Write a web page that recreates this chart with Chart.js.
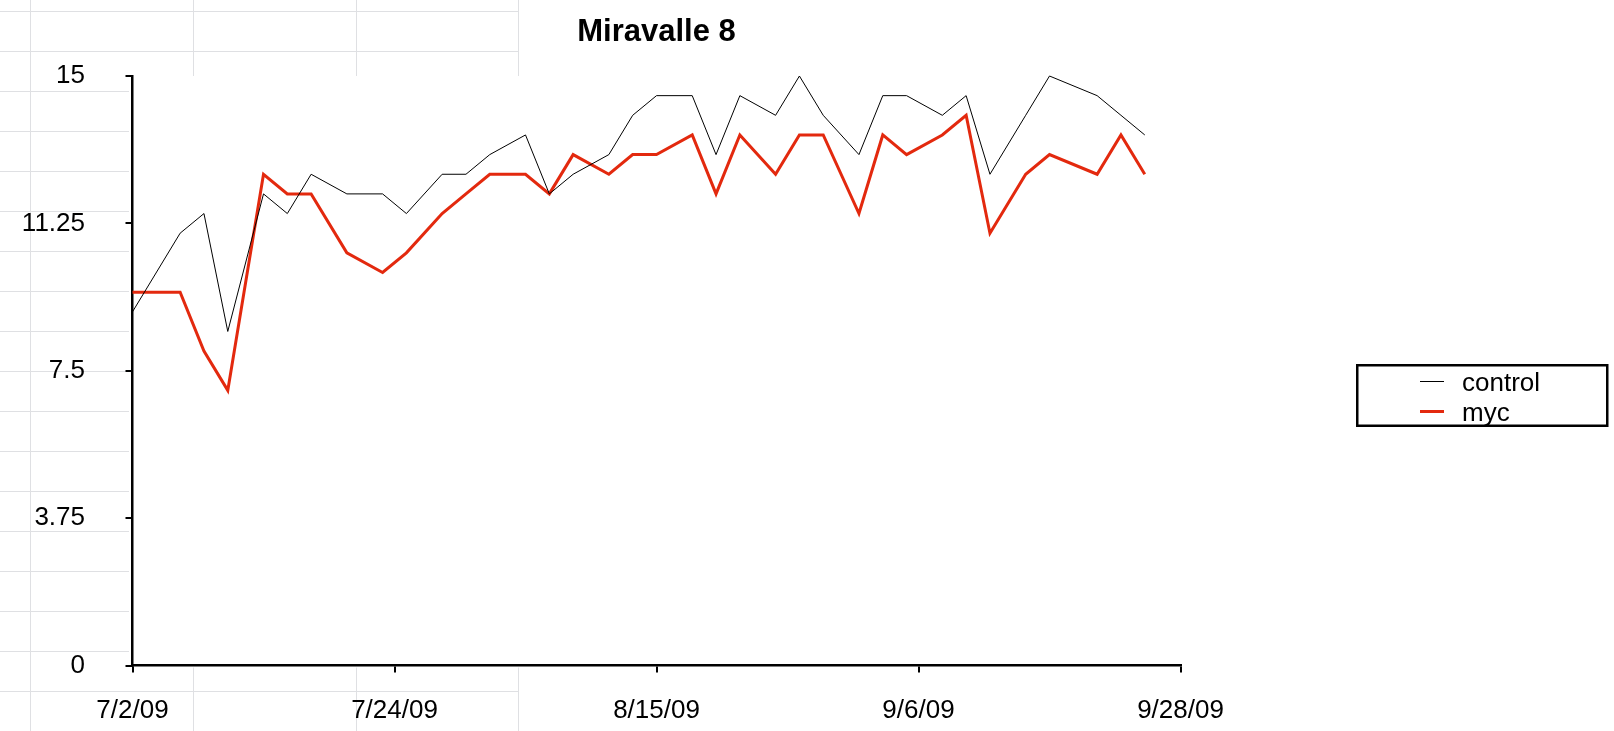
<!DOCTYPE html>
<html>
<head>
<meta charset="utf-8">
<script src="https://cdn.jsdelivr.net/npm/chart.js@4.4.1/dist/chart.umd.min.js"></script>
<style>
  html, body { margin: 0; padding: 0; background: #ffffff; }
  #wrap { width: 1614px; height: 731px; position: relative; }
  canvas { display: block; }
</style>
</head>
<body>
<div id="wrap"><canvas id="c" width="1614" height="731"></canvas></div>
<script>
// ---- data ----
const TITLE = 'Miravalle 8';
const dates = ['2009-07-02','2009-07-06','2009-07-08','2009-07-10','2009-07-13','2009-07-15','2009-07-17',
  '2009-07-20','2009-07-23','2009-07-25','2009-07-28','2009-07-30','2009-08-01','2009-08-04','2009-08-06',
  '2009-08-08','2009-08-11','2009-08-13','2009-08-15','2009-08-18','2009-08-20','2009-08-22','2009-08-25',
  '2009-08-27','2009-08-29','2009-09-01','2009-09-03','2009-09-05','2009-09-08','2009-09-10','2009-09-12',
  '2009-09-15','2009-09-17','2009-09-21','2009-09-23','2009-09-25'];
const control = [9.0, 11.0, 11.5, 8.5, 12.0, 11.5, 12.5, 12.0, 12.0, 11.5, 12.5, 12.5, 13.0, 13.5, 12.0,
  12.5, 13.0, 14.0, 14.5, 14.5, 13.0, 14.5, 14.0, 15.0, 14.0, 13.0, 14.5, 14.5, 14.0, 14.5, 12.5,
  14.0, 15.0, 14.5, 14.0, 13.5];
const myc = [9.5, 9.5, 8.0, 7.0, 12.5, 12.0, 12.0, 10.5, 10.0, 10.5, 11.5, 12.0, 12.5, 12.5, 12.0,
  13.0, 12.5, 13.0, 13.0, 13.5, 12.0, 13.5, 12.5, 13.5, 13.5, 11.5, 13.5, 13.0, 13.5, 14.0, 11.0,
  12.5, 13.0, 12.5, 13.5, 12.5];
const seriesNames = ['control', 'myc'];
const xTickDates = ['2009-07-02','2009-07-24','2009-08-15','2009-09-06','2009-09-28'];
const xTickLabels = ['7/2/09','7/24/09','8/15/09','9/6/09','9/28/09'];
const yTicks = [0, 3.75, 7.5, 11.25, 15];
const yTickLabels = ['0','3.75','7.5','11.25','15'];

// ---- helpers ----
const DAY = 86400000;
const origin = Date.parse(xTickDates[0]);
const dayOf = d => Math.round((Date.parse(d) - origin) / DAY);
const toPoints = vals => dates.map((d, i) => ({ x: dayOf(d), y: vals[i] }));

const FONT = '"Liberation Sans", Arial, Helvetica, sans-serif';
const RED = '#e3290e';

// spreadsheet grid behind the chart
const sheetGrid = {
  id: 'sheetGrid',
  beforeDraw(chart) {
    const ctx = chart.ctx;
    const ca = chart.chartArea;
    ctx.save();
    ctx.fillStyle = '#ffffff';
    ctx.fillRect(0, 0, chart.width, chart.height);
    ctx.fillStyle = '#dfe0e3';
    const cols = [30, 193, 356, 518];
    const lastX = 519;
    for (let y = 11; y < chart.height; y += 40) ctx.fillRect(0, y, lastX, 1);
    cols.forEach(x => ctx.fillRect(x, 0, 1, chart.height));
    // plot wall is opaque white
    ctx.fillStyle = '#ffffff';
    ctx.fillRect(129, ca.top, ca.right - 129 + 2, ca.bottom - ca.top + 2);
    ctx.restore();
  }
};

// title and boxed legend
const decorations = {
  id: 'decorations',
  afterDraw(chart) {
    const ctx = chart.ctx;
    const ca = chart.chartArea;
    ctx.save();
    ctx.fillStyle = '#000';
    ctx.font = 'bold 31px ' + FONT;
    ctx.textAlign = 'center';
    ctx.textBaseline = 'alphabetic';
    ctx.fillText(TITLE, (ca.left + ca.right) / 2, 41);

    // legend box
    ctx.lineWidth = 2.5;
    ctx.strokeStyle = '#000';
    ctx.strokeRect(1357.25, 365.25, 250, 60.5);
    const rows = [381.5, 411.5];
    ctx.font = '26px ' + FONT;
    ctx.textAlign = 'left';
    chart.data.datasets.forEach((ds, i) => {
      ctx.beginPath();
      ctx.strokeStyle = ds.borderColor;
      ctx.lineWidth = ds.borderWidth;
      ctx.moveTo(1420, rows[i]);
      ctx.lineTo(1444, rows[i]);
      ctx.stroke();
      ctx.fillStyle = '#000';
      ctx.fillText(ds.label, 1462, rows[i] + 9.5);
    });
    ctx.restore();
  }
};

new Chart(document.getElementById('c'), {
  type: 'line',
  data: {
    datasets: [
      { label: seriesNames[0], data: toPoints(control), borderColor: '#000000', borderWidth: 1,
        pointRadius: 0, tension: 0, clip: false, order: 0 },
      { label: seriesNames[1], data: toPoints(myc), borderColor: RED, borderWidth: 3,
        pointRadius: 0, tension: 0, clip: false, order: 1 }
    ]
  },
  options: {
    responsive: false,
    animation: false,
    devicePixelRatio: 1,
    layout: { padding: { left: 0, right: 433.5, top: 76, bottom: 0 } },
    plugins: { legend: { display: false }, title: { display: false }, tooltip: { enabled: false } },
    scales: {
      x: {
        type: 'linear',
        min: 0,
        max: dayOf(xTickDates[xTickDates.length - 1]),
        afterFit(s) { s.height = 65.5; },
        afterBuildTicks(s) { s.ticks = xTickDates.map(d => ({ value: dayOf(d) })); },
        grid: { drawOnChartArea: false, drawTicks: true, tickLength: 7, color: '#000', lineWidth: 2 },
        border: { display: true, color: '#000', width: 2.5 },
        ticks: {
          autoSkip: false, maxRotation: 0, padding: 23, color: '#000',
          font: { family: FONT, size: 26 },
          callback: (v, i) => xTickLabels[i]
        }
      },
      y: {
        min: 0,
        max: yTicks[yTicks.length - 1],
        afterFit(s) { s.width = 132.5; },
        afterBuildTicks(s) { s.ticks = yTicks.map(v => ({ value: v })); },
        grid: { drawOnChartArea: false, drawTicks: true, tickLength: 7, color: '#000', lineWidth: 2 },
        border: { display: true, color: '#000', width: 2.5 },
        ticks: {
          autoSkip: false, padding: 40.5, color: '#000',
          font: { family: FONT, size: 26 },
          callback: (v, i) => yTickLabels[i]
        }
      }
    }
  },
  plugins: [sheetGrid, decorations]
});
</script>
</body>
</html>
